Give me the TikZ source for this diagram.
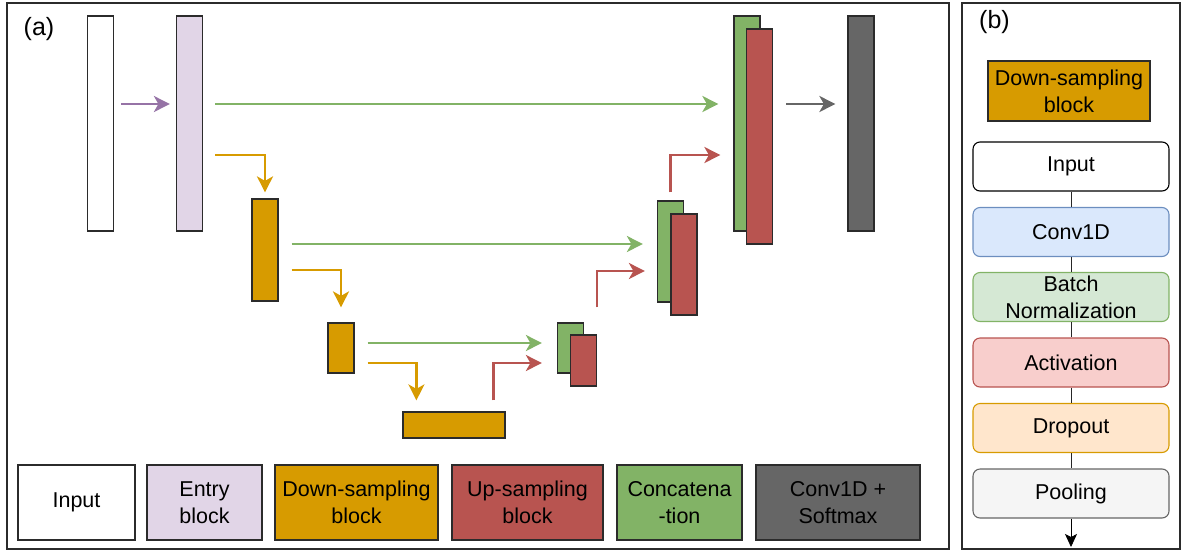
\documentclass[tikz,border=0pt]{standalone}
\usepackage{fontspec}
\setmainfont{Liberation Sans}
\usepackage{xcolor}
\usetikzlibrary{arrows.meta,positioning,calc}

\definecolor{inpurple}{HTML}{9673A6}
\definecolor{entryfill}{HTML}{E1D5E7}
\definecolor{downor}{HTML}{D79B00}
\definecolor{upred}{HTML}{B85450}
\definecolor{catgreen}{HTML}{82B366}
\definecolor{outgray}{HTML}{666666}
\definecolor{edgegray}{HTML}{2B2B2B}
\definecolor{convfill}{HTML}{DAE8FC}
\definecolor{convline}{HTML}{6C8EBF}
\definecolor{bnfill}{HTML}{D5E8D4}
\definecolor{actfill}{HTML}{F8CECC}
\definecolor{dropfill}{HTML}{FFE6CC}
\definecolor{poolfill}{HTML}{F5F5F5}

\begin{document}
\begin{tikzpicture}[x=1pt,y=-1pt,
  bar/.style={draw=edgegray,line width=1.2pt,inner sep=0pt,minimum width=26},
  arr/.style={line width=2.4pt,-{Stealth[length=16pt,width=16pt,inset=4.5pt]}},
  leg/.style={draw=edgegray,line width=1.2pt,inner sep=0pt,minimum height=75,align=center,font=\fontsize{21.5}{27}\selectfont},
  layer/.style={draw,rounded corners=7pt,line width=1.1pt,inner sep=0pt,minimum width=196,minimum height=49,align=center,font=\fontsize{21.5}{27}\selectfont},
  frame/.style={draw=edgegray,line width=2pt},
  tag/.style={font=\fontsize{25}{29}\selectfont,inner sep=0pt}]
\useasboundingbox (0,0) rectangle (1183,552);
% frames
\draw[frame] (7,3) rectangle (949,549);
\draw[frame] (962,3) rectangle (1180,549);
\node[tag] (taga) at (39,29) {(a)};
\node[tag] (tagb) at (994.5,22) {(b)};
% (a) network
\node[bar,fill=white,minimum height=215] (inp) at (100.5,123.5) {};
\node[bar,fill=entryfill,minimum height=215] (entry) at (189.5,123.5) {};
\node[bar,fill=downor,minimum height=102] (down1) at (265,250) {};
\node[bar,fill=downor,minimum height=50] (down2) at (341,348) {};
\node[bar,fill=downor,minimum height=26,minimum width=102] (bott) at (454,425) {};
\node[bar,fill=catgreen,minimum height=50] (cat1g) at (570.5,348) {};
\node[bar,fill=upred,minimum height=51] (cat1r) at (583.5,360.5) {};
\node[bar,fill=catgreen,minimum height=101] (cat2g) at (670.5,251.5) {};
\node[bar,fill=upred,minimum height=101] (cat2r) at (684,264.5) {};
\node[bar,fill=catgreen,minimum height=215] (cat3g) at (747,123.5) {};
\node[bar,fill=upred,minimum height=215] (cat3r) at (759.5,136.5) {};
\node[bar,fill=outgray,minimum height=215] (outp) at (861,123.5) {};
% skip and flow arrows
\draw[arr,inpurple] ([xshift=7]inp.east |- 0,104) -- ([xshift=-6]entry.west |- 0,104);
\draw[arr,catgreen] ([xshift=12]entry.east |- 0,104) -- ([xshift=-15]cat3g.west |- 0,104);
\draw[arr,outgray] ([xshift=13]cat3r.east |- 0,104) -- ([xshift=-12]outp.west |- 0,104);
\draw[arr,downor] ([xshift=12]entry.east |- 0,155) -| ([yshift=6]down1.north);
\draw[arr,catgreen] ([xshift=13]down1.east |- 0,244) -- ([xshift=-14]cat2g.west |- 0,244);
\draw[arr,downor] ([xshift=13]down1.east |- 0,270) -| ([yshift=15]down2.north);
\draw[arr,catgreen] ([xshift=13]down2.east |- 0,343) -- ([xshift=-15]cat1g.west |- 0,343);
\draw[arr,downor] ([xshift=13]down2.east |- 0,363) -| ([xshift=14,yshift=11]bott.north west);
\draw[arr,upred] ([xshift=-12,yshift=11]bott.north east) |- ([xshift=-15]cat1g.west |- 0,363);
\draw[arr,upred] ([yshift=27]cat1r.north east) |- ([xshift=-12]cat2g.west |- 0,271);
\draw[arr,upred] ([yshift=8]cat2g.north) |- ([xshift=-13]cat3g.west |- 0,155);
% legend
\node[leg,fill=white,minimum width=117] (lgin) at (76.5,502.5) {Input};
\node[leg,fill=entryfill,minimum width=115] (lgentry) at (204.5,502.5) {Entry\\block};
\node[leg,fill=downor,minimum width=163] (lgdown) at (356.5,502.5) {Down-sampling\\block};
\node[leg,fill=upred,minimum width=151] (lgup) at (527.5,502.5) {Up-sampling\\block};
\node[leg,fill=catgreen,minimum width=125] (lgcat) at (679.5,502.5) {Concatena\\-tion};
\node[leg,fill=outgray,minimum width=164] (lgout) at (838,502.5) {Conv1D +\\Softmax};
% (b) down-sampling block
\node[leg,fill=downor,minimum width=162,minimum height=60] (dshead) at (1069,91) {Down-sampling\\block};
\node[layer,fill=white,draw=black] (lin) at (1071,166.5) {Input};
\node[layer,fill=convfill,draw=convline] (lconv) at (1071,232) {Conv1D};
\node[layer,fill=bnfill,draw=catgreen] (lbn) at (1071,297) {Batch\\Normalization};
\node[layer,fill=actfill,draw=upred] (lact) at (1071,362.5) {Activation};
\node[layer,fill=dropfill,draw=downor] (ldrop) at (1071,428) {Dropout};
\node[layer,fill=poolfill,draw=outgray] (lpool) at (1071,493.5) {Pooling};
\coordinate (lend) at (1071,547);
\foreach \a/\b in {lin/lconv,lconv/lbn,lbn/lact,lact/ldrop,ldrop/lpool}
  \draw[line width=0.8pt,black!85] (\a) -- (\b);
\draw[line width=0.8pt,-{Stealth[length=13pt,width=12pt,inset=3pt]}] (lpool) -- (lend);
\end{tikzpicture}
\end{document}
